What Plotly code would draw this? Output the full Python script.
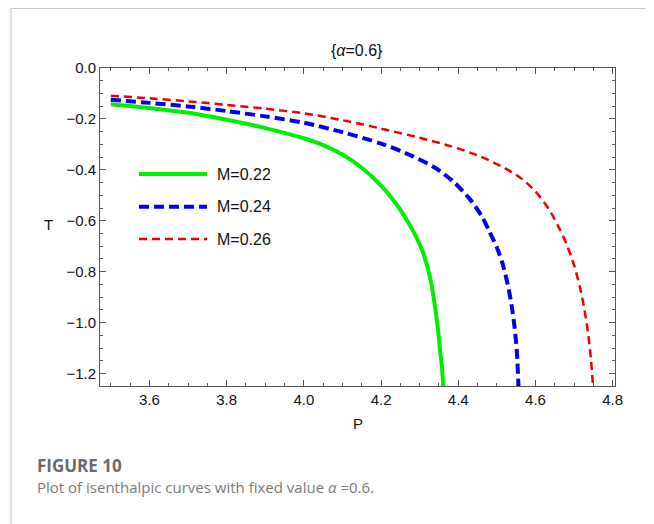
import plotly.graph_objects as go

# ---- data ----
series_names = ["M=0.22", "M=0.24", "M=0.26"]
series_colors = ["#00ee00", "#0000ee", "#ee0000"]

p_022 = [3.50, 3.60, 3.70, 3.80, 3.90, 4.00, 4.05, 4.10, 4.15, 4.20, 4.24, 4.27, 4.29, 4.305,
         4.318, 4.33, 4.34, 4.347, 4.353, 4.358, 4.361]
t_022 = [-0.142, -0.157, -0.176, -0.203, -0.236, -0.276, -0.303, -0.340, -0.392, -0.462, -0.535,
         -0.605, -0.66, -0.71, -0.77, -0.845, -0.94, -1.02, -1.11, -1.18, -1.25]

p_024 = [3.50, 3.60, 3.70, 3.80, 3.90, 4.00, 4.10, 4.20, 4.28, 4.34, 4.39, 4.43, 4.46, 4.48,
         4.50, 4.515, 4.528, 4.538, 4.546, 4.552, 4.556]
t_024 = [-0.125, -0.137, -0.151, -0.169, -0.190, -0.215, -0.252, -0.297, -0.345, -0.392, -0.450,
         -0.515, -0.580, -0.640, -0.705, -0.77, -0.85, -0.93, -1.02, -1.12, -1.25]

p_026 = [3.50, 3.60, 3.70, 3.80, 3.90, 4.00, 4.10, 4.20, 4.30, 4.38, 4.45, 4.51, 4.56, 4.60,
         4.635, 4.66, 4.68, 4.70, 4.715, 4.727, 4.737, 4.744, 4.749]
t_026 = [-0.109, -0.119, -0.131, -0.145, -0.160, -0.178, -0.205, -0.238, -0.274, -0.307, -0.343,
         -0.385, -0.43, -0.485, -0.555, -0.625, -0.69, -0.775, -0.86, -0.95, -1.05, -1.15, -1.25]

xs = [p_022, p_024, p_026]
ys = [t_022, t_024, t_026]
widths = [4, 4, 2.5]
dashes = ["solid", "10px,5px", "8px,5px"]

x_range = [3.472, 4.806]
y_range = [-1.249, 0.0]

FONT = "Liberation Sans"

fig = go.Figure()
for x, y, n, c, w, d in zip(xs, ys, series_names, series_colors, widths, dashes):
    fig.add_trace(go.Scatter(x=x, y=y, mode="lines", name=n,
                             line=dict(color=c, width=w, dash=d, shape="spline", smoothing=0.8),
                             showlegend=False))

# page body adds 8px margin; compensate
OFF = 8
W, H = 646, 516
L, R, T, B = 92, 39, 60, 138
pw, ph = W - L - R, H - T - B

def px2x(px):
    return (px - OFF - L) / pw

def py2y(py):
    return (H - B - (py - OFF)) / ph

axis_common = dict(showline=True, linecolor="#555", linewidth=1, mirror="ticks",
                   ticks="inside", ticklen=6, tickcolor="#555", showgrid=False, zeroline=False,
                   tickfont=dict(family=FONT, size=15, color="#111"),
                   tickformat=".1f")

fig.update_xaxes(range=x_range, dtick=0.2, tick0=0,
                 minor=dict(ticks="inside", dtick=0.05, ticklen=3, tickcolor="#555"),
                 **axis_common)
fig.update_yaxes(range=y_range, dtick=0.2, tick0=0,
                 minor=dict(ticks="inside", dtick=0.05, ticklen=3, tickcolor="#555"),
                 **axis_common)

shapes = []
annotations = []
# manual legend
leg_y = [174, 206.7, 239]
for n, c, w, d, yy in zip(series_names, series_colors, widths, dashes, leg_y):
    shapes.append(dict(type="line", xref="paper", yref="paper",
                       x0=px2x(139), x1=px2x(207), y0=py2y(yy), y1=py2y(yy),
                       line=dict(color=c, width=w, dash=d)))
    annotations.append(dict(text=n, xref="paper", yref="paper", x=px2x(215), y=py2y(yy),
                            xanchor="left", yanchor="middle", showarrow=False,
                            font=dict(family=FONT, size=16, color="#111")))

# outer border
shapes.append(dict(type="rect", xref="paper", yref="paper", layer="below",
                   x0=px2x(11), x1=px2x(652.5), y0=py2y(560), y1=py2y(8.5),
                   line=dict(color="#c8c8c8", width=1.2), fillcolor="rgba(0,0,0,0)"))

# title and axis labels
annotations.append(dict(text="{<i>α</i>=0.6}", xref="paper", yref="paper", x=px2x(357), y=py2y(50),
                        xanchor="center", yanchor="middle", showarrow=False,
                        font=dict(family=FONT, size=16, color="#111")))
annotations.append(dict(text="T", xref="paper", yref="paper", x=px2x(48), y=py2y(224),
                        xanchor="center", yanchor="middle", showarrow=False,
                        font=dict(family=FONT, size=15, color="#111")))
annotations.append(dict(text="P", xref="paper", yref="paper", x=px2x(358), y=py2y(423),
                        xanchor="center", yanchor="middle", showarrow=False,
                        font=dict(family=FONT, size=15, color="#111")))
# caption
annotations.append(dict(text="<b>FIGURE 10</b>", xref="paper", yref="paper", x=px2x(35), y=py2y(465),
                        xanchor="left", yanchor="middle", showarrow=False,
                        font=dict(family="Open Sans", size=17, color="#6b6b6b")))
annotations.append(dict(text="Plot of isenthalpic curves with fixed value <i>α</i> =0.6.", xref="paper", yref="paper",
                        x=px2x(35), y=py2y(487), xanchor="left", yanchor="middle", showarrow=False,
                        font=dict(family="Open Sans", size=15, color="#7a7a7a")))

fig.update_layout(width=W, height=H, margin=dict(l=L, r=R, t=T, b=B),
                  paper_bgcolor="white", plot_bgcolor="white",
                  shapes=shapes, annotations=annotations, showlegend=False)

fig.write_html("out.html")
